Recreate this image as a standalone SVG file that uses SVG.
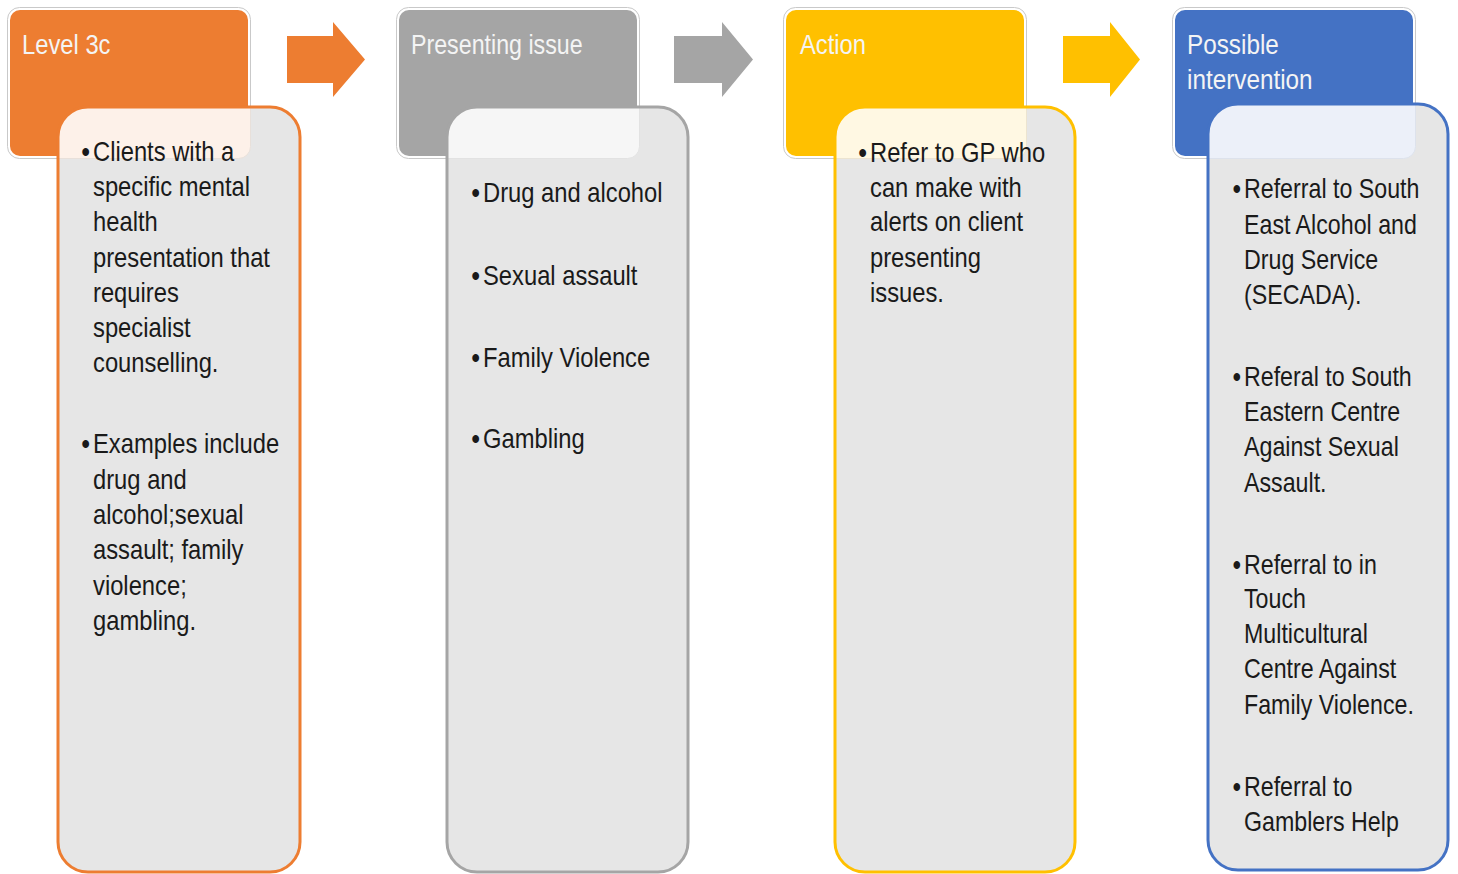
<svg xmlns="http://www.w3.org/2000/svg" width="1458" height="874" viewBox="0 0 1458 874">
<defs>
<style>
.hdr-out{fill:#ffffff;stroke:#c9c9c9;stroke-width:1}
.ht{font-family:'Liberation Sans',Arial,sans-serif;font-size:27px;fill:#f4f4f4}
.bt{font-family:'Liberation Sans',Arial,sans-serif;font-size:27px;fill:#1a1a1a}
.b{font-weight:bold}
.body{fill:#e6e6e6}
</style>
<clipPath id="c1"><rect x="58" y="107" width="242" height="765" rx="30"/></clipPath>
<clipPath id="c2"><rect x="447" y="107" width="241" height="765" rx="30"/></clipPath>
<clipPath id="c3"><rect x="835" y="107" width="240" height="765" rx="30"/></clipPath>
<clipPath id="c4"><rect x="1208" y="104" width="240" height="766" rx="30"/></clipPath>
</defs>
<rect width="1458" height="874" fill="#ffffff"/>

<g id="connectors">
<path d="M287,36 H333 V22 L365,59.5 L333,97 V83 H287 Z" fill="#ed7d31"/>
<path d="M674,36 H722 V22 L753,59.5 L722,97 V83 H674 Z" fill="#a5a5a5"/>
<path d="M1063,36 H1110 V22 L1140,59.5 L1110,97 V83 H1063 Z" fill="#ffc000"/>
</g>

<g id="level3c">
<rect class="hdr-out" x="7.5" y="7.5" width="243" height="151" rx="12"/>
<rect x="10" y="10" width="238" height="146" rx="10" fill="#ed7d31"/>
<g transform="translate(22,0) scale(0.88,1)"><text class="ht" x="0" y="54">Level 3c</text></g>
<rect class="body" x="58" y="107" width="242" height="765" rx="30"/>
<rect x="7.5" y="7.5" width="243" height="151" rx="12" fill="#fdf1e9" stroke="#e8e0da" stroke-width="1" clip-path="url(#c1)"/>
<rect x="58" y="107" width="242" height="765" rx="30" fill="none" stroke="#ed7d31" stroke-width="3"/>
<g transform="translate(93,0) scale(0.88,1)">
<text class="bt"><tspan class="b" x="-13" y="161">•</tspan><tspan x="0" y="161">Clients with a</tspan><tspan x="0" y="196">specific mental</tspan><tspan x="0" y="231">health</tspan><tspan x="0" y="267">presentation that</tspan><tspan x="0" y="302">requires</tspan><tspan x="0" y="337">specialist</tspan><tspan x="0" y="372">counselling.</tspan></text>
<text class="bt"><tspan class="b" x="-13" y="453">•</tspan><tspan x="0" y="453">Examples include</tspan><tspan x="0" y="489">drug and</tspan><tspan x="0" y="524">alcohol;sexual</tspan><tspan x="0" y="559">assault; family</tspan><tspan x="0" y="595">violence;</tspan><tspan x="0" y="630">gambling.</tspan></text>
</g>
</g>

<g id="presenting">
<rect class="hdr-out" x="396.5" y="7.5" width="243" height="151" rx="12"/>
<rect x="399" y="10" width="238" height="146" rx="10" fill="#a5a5a5"/>
<g transform="translate(411,0) scale(0.86,1)"><text class="ht" x="0" y="54">Presenting issue</text></g>
<rect class="body" x="447" y="107" width="241" height="765" rx="30"/>
<rect x="396.5" y="7.5" width="243" height="151" rx="12" fill="#f6f6f6" stroke="#e2e2e2" stroke-width="1" clip-path="url(#c2)"/>
<rect x="447" y="107" width="241" height="765" rx="30" fill="none" stroke="#a5a5a5" stroke-width="3"/>
<g transform="translate(483,0) scale(0.88,1)">
<text class="bt"><tspan class="b" x="-13" y="202">•</tspan><tspan x="0" y="202">Drug and alcohol</tspan></text>
<text class="bt"><tspan class="b" x="-13" y="285">•</tspan><tspan x="0" y="285">Sexual assault</tspan></text>
<text class="bt"><tspan class="b" x="-13" y="367">•</tspan><tspan x="0" y="367">Family Violence</tspan></text>
<text class="bt"><tspan class="b" x="-13" y="448">•</tspan><tspan x="0" y="448">Gambling</tspan></text>
</g>
</g>

<g id="action">
<rect class="hdr-out" x="783.5" y="7.5" width="243" height="151" rx="12"/>
<rect x="786" y="10" width="238" height="146" rx="10" fill="#ffc000"/>
<g transform="translate(800,0) scale(0.88,1)"><text class="ht" x="0" y="54">Action</text></g>
<rect class="body" x="835" y="107" width="240" height="765" rx="30"/>
<rect x="783.5" y="7.5" width="243" height="151" rx="12" fill="#fff8e3" stroke="#ece4d0" stroke-width="1" clip-path="url(#c3)"/>
<rect x="835" y="107" width="240" height="765" rx="30" fill="none" stroke="#ffc000" stroke-width="3"/>
<g transform="translate(870,0) scale(0.88,1)">
<text class="bt"><tspan class="b" x="-13" y="162">•</tspan><tspan x="0" y="162">Refer to GP who</tspan><tspan x="0" y="197">can make with</tspan><tspan x="0" y="231">alerts on client</tspan><tspan x="0" y="267">presenting</tspan><tspan x="0" y="302">issues.</tspan></text>
</g>
</g>

<g id="intervention">
<rect class="hdr-out" x="1172.5" y="7.5" width="243" height="151" rx="12"/>
<rect x="1175" y="10" width="238" height="146" rx="10" fill="#4472c4"/>
<g transform="translate(1187,0) scale(0.9,1)"><text class="ht"><tspan x="0" y="54">Possible</tspan><tspan x="0" y="89">intervention</tspan></text></g>
<rect class="body" x="1208" y="104" width="240" height="766" rx="30"/>
<rect x="1172.5" y="7.5" width="243" height="151" rx="12" fill="#ecf0f9" stroke="#dde2ec" stroke-width="1" clip-path="url(#c4)"/>
<rect x="1208" y="104" width="240" height="766" rx="30" fill="none" stroke="#4472c4" stroke-width="3"/>
<g transform="translate(1244,0) scale(0.86,1)">
<text class="bt"><tspan class="b" x="-13" y="198">•</tspan><tspan x="0" y="198">Referral to South</tspan><tspan x="0" y="234">East Alcohol and</tspan><tspan x="0" y="269">Drug Service</tspan><tspan x="0" y="304">(SECADA).</tspan></text>
<text class="bt"><tspan class="b" x="-13" y="386">•</tspan><tspan x="0" y="386">Referal to South</tspan><tspan x="0" y="421">Eastern Centre</tspan><tspan x="0" y="456">Against Sexual</tspan><tspan x="0" y="492">Assault.</tspan></text>
<text class="bt"><tspan class="b" x="-13" y="574">•</tspan><tspan x="0" y="574">Referral to in</tspan><tspan x="0" y="608">Touch</tspan><tspan x="0" y="643">Multicultural</tspan><tspan x="0" y="678">Centre Against</tspan><tspan x="0" y="714">Family Violence.</tspan></text>
<text class="bt"><tspan class="b" x="-13" y="796">•</tspan><tspan x="0" y="796">Referral to</tspan><tspan x="0" y="831">Gamblers Help</tspan></text>
</g>
</g>
</svg>
